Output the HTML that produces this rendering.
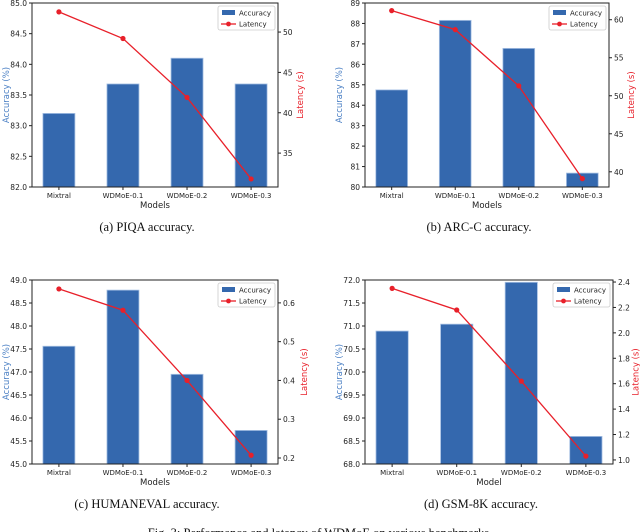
<!DOCTYPE html>
<html><head><meta charset="utf-8"><style>
body{margin:0;background:#fff;width:640px;height:532px;overflow:hidden}
svg{display:block}
text{font-family:"DejaVu Sans","Liberation Sans",sans-serif}
.cap{font-family:"Liberation Serif",serif;font-size:12.5px;fill:#111}
</style></head><body>
<svg id="fig" width="640" height="532" viewBox="0 0 640 532"></svg>
<script>
const categories=["Mixtral","WDMoE-0.1","WDMoE-0.2","WDMoE-0.3"];
const accA=[83.2,83.68,84.1,83.68];
const latA=[52.5,49.2,41.9,31.8];
const accB=[84.75,88.15,86.78,80.68];
const latB=[61.2,58.7,51.3,39.1];
const accC=[47.56,48.78,46.95,45.73];
const latC=[0.636,0.581,0.40,0.207];
const accD=[70.89,71.04,71.95,68.6];
const latD=[2.35,2.18,1.62,1.03];
const ticksA=["82.0","82.5","83.0","83.5","84.0","84.5","85.0"], rticksA=["35","40","45","50"];
const ticksB=["80","81","82","83","84","85","86","87","88","89"], rticksB=["40","45","50","55","60"];
const ticksC=["45.0","45.5","46.0","46.5","47.0","47.5","48.0","48.5","49.0"], rticksC=["0.2","0.3","0.4","0.5","0.6"];
const ticksD=["68.0","68.5","69.0","69.5","70.0","70.5","71.0","71.5","72.0"], rticksD=["1.0","1.2","1.4","1.6","1.8","2.0","2.2","2.4"];
const captions=["(a) PIQA accuracy.","(b) ARC-C accuracy.","(c) HUMANEVAL accuracy.","(d) GSM-8K accuracy."];
const NS="http://www.w3.org/2000/svg";
const svg=document.getElementById('fig');
function el(tag,attrs,parent,txt){const e=document.createElementNS(NS,tag);for(const k in attrs)e.setAttribute(k,attrs[k]);if(txt!==undefined)e.textContent=txt;(parent||svg).appendChild(e);return e;}
function chart(id,L,R,T,B,acc,lat,ticks,amin,amax,rticks,rmin,rmax,xlab,cap){
  const g=el('g',{});
  
  
  const y=v=>B-(v-amin)/(amax-amin)*(B-T);
  const yr=v=>B-(v-rmin)/(rmax-rmin)*(B-T);
  const xmin=-0.42,xmax=3.42;
  const x=i=>L+(i-xmin)/(xmax-xmin)*(R-L);
  const bw=0.5*(R-L)/(xmax-xmin);
  acc.forEach((v,i)=>{const r=el('rect',{x:x(i)-bw/2,y:y(v),width:bw,height:B-y(v),fill:'#3468ae',stroke:'#a9c2e4','stroke-width':0.8},g);
    
    });
  el('rect',{x:L,y:T,width:R-L,height:B-T,fill:'none',stroke:'#222','stroke-width':1},g);
  ticks.forEach(t=>{const yy=y(parseFloat(t));el('line',{x1:L-3,x2:L,y1:yy,y2:yy,stroke:'#222'},g);
    el('text',{x:L-5,y:yy+3,'font-size':7.5,'text-anchor':'end',fill:'#222'},g,t);});
  rticks.forEach(t=>{const yy=yr(parseFloat(t));el('line',{x1:R,x2:R+3,y1:yy,y2:yy,stroke:'#222'},g);
    el('text',{x:R+5,y:yy+3,'font-size':7.5,fill:'#222'},g,t);});
  categories.forEach((c,i)=>{el('line',{x1:x(i),x2:x(i),y1:B,y2:B+3,stroke:'#222'},g);
    el('text',{x:x(i),y:B+11,'font-size':7,'text-anchor':'middle',fill:'#222'},g,c);});
  const yl=el('text',{x:0,y:0,'font-size':8.5,'text-anchor':'middle',fill:'#4a7fc4',transform:`translate(${L-23},${(T+B)/2}) rotate(-90)`},g,'Accuracy (%)');
  
  const rx=Math.min(R+(rticks[0].length>2?29:25),638.5);
  const yr2=el('text',{x:0,y:0,'font-size':8.5,'text-anchor':'middle',fill:'#e8202a',transform:`translate(${rx},${(T+B)/2}) rotate(-90)`},g,'Latency (s)');
  
  const xl=el('text',{x:(L+R)/2,y:B+21,'font-size':8.5,'text-anchor':'middle',fill:'#222'},g,xlab);
  
  const pts=lat.map((v,i)=>x(i)+','+yr(v)).join(' ');
  const pl=el('polyline',{points:pts,fill:'none',stroke:'#e8202a','stroke-width':1.3},g);
  
  lat.forEach((v,i)=>{const c=el('circle',{cx:x(i),cy:yr(v),r:2.6,fill:'#e8202a'},g);
    });
  const lg=el('g',{},g);
  
  const lx=R-60,ly=T+3;
  el('rect',{x:lx,y:ly,width:57,height:24,rx:2,fill:'#fff',stroke:'#ccc','stroke-width':0.8},lg);
  el('rect',{x:lx+4,y:ly+4,width:13,height:5,fill:'#3468ae'},lg);
  el('text',{x:lx+21,y:ly+9.5,'font-size':7,fill:'#222'},lg,'Accuracy');
  el('line',{x1:lx+3,x2:lx+18,y1:ly+18,y2:ly+18,stroke:'#e8202a','stroke-width':1.3},lg);
  el('circle',{cx:lx+10.5,cy:ly+18,r:2.4,fill:'#e8202a'},lg);
  el('text',{x:lx+21,y:ly+20.5,'font-size':7,fill:'#222'},lg,'Latency');
  const ct=el('text',{x:(L+R)/2-8,y:B+44,'text-anchor':'middle',class:'cap'},g,cap);
  
}
chart('piqa',32,278,3,187,accA,latA,ticksA,82,85,rticksA,30.8,53.6,'Models',captions[0]);
chart('arc-c',365,609,3,187,accB,latB,ticksB,80,89,rticksB,38.0,62.2,'Models',captions[1]);
chart('humaneval',32,278,280,464,accC,latC,ticksC,45,49,rticksC,0.1845,0.659,'Models',captions[2]);
chart('gsm-8k',365,613,280,464,accD,latD,ticksD,68,72,rticksD,0.968,2.416,'Model',captions[3]);
const fc=el('text',{x:320,y:537,'text-anchor':'middle',class:'cap'},svg,'Fig. 3: Performance and latency of WDMoE on various benchmarks.');


</script>
</body></html>
